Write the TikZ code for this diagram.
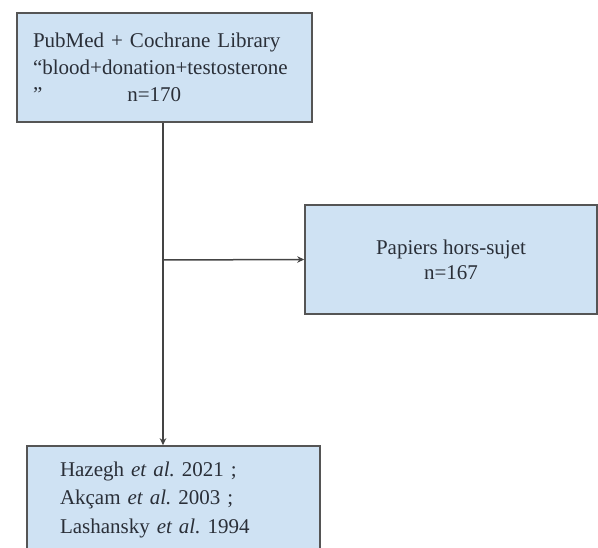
\documentclass[tikz,border=0pt]{standalone}
\usepackage{fontspec}
\setmainfont{Liberation Serif}
\usetikzlibrary{arrows.meta}
\definecolor{boxfill}{HTML}{CFE2F3}
\definecolor{boxline}{HTML}{555555}
\definecolor{linkline}{HTML}{444444}
\definecolor{boxtext}{HTML}{2A2F38}
\tikzset{
  box/.style={draw=boxline, line width=1.6pt, fill=boxfill, inner ysep=0pt,
    font=\fontsize{21}{27}\selectfont, text=boxtext},
  link/.style={draw=linkline, line width=1.5pt, -{Stealth[length=7pt,width=6.5pt]}}
}
\begin{document}
\frenchspacing
\begin{tikzpicture}[x=1pt,y=-1pt]
\useasboundingbox (0,0) rectangle (598,548);
\node[box, text width=263pt, inner xsep=16pt, minimum height=109pt, align=left]
  (top) at (164.5,67.5)
  {PubMed + Cochrane Library\\“blood+donation+testosterone\\”\hspace{85pt}n=170};
\node[box, minimum width=292pt, minimum height=109pt, align=center,
  font=\fontsize{21}{25}\selectfont]
  (off) at (451,259.5) {Papiers hors-sujet\\n=167};
\node[box, text width=227pt, inner xsep=33pt, minimum height=107pt, align=left,
  font=\fontsize{21}{28.5}\selectfont]
  (res) at (173.5,499.5)
  {Hazegh \textit{et al.}\ 2021 ;\\Akçam \textit{et al.}\ 2003 ;\\Lashansky \textit{et al.}\ 1994};
\coordinate (j) at (163,260);
\draw[link] (top.south -| j) -- (res.north -| j);
\draw[link] (j) -- (off.west);
\end{tikzpicture}
\end{document}
